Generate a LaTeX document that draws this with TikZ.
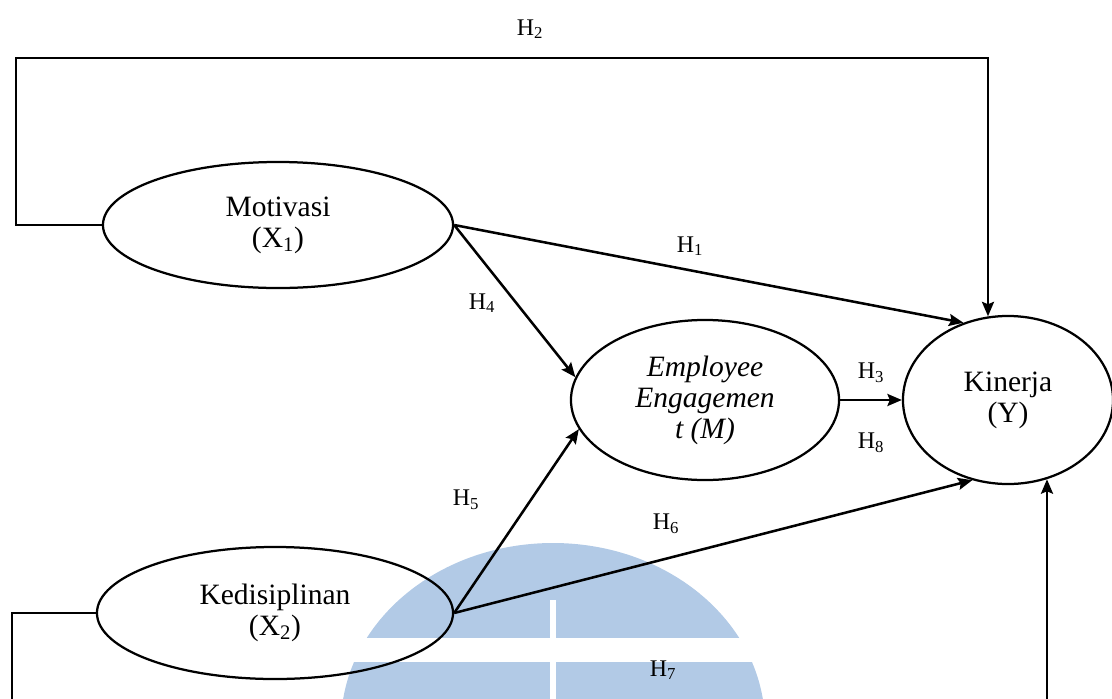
\documentclass[tikz,border=0pt]{standalone}
\usepackage{fontspec}
\setmainfont{Liberation Serif}
\usetikzlibrary{arrows.meta,shapes.geometric}

\definecolor{wmblue}{RGB}{178,202,230}

\begin{document}
\begin{tikzpicture}[x=0.025cm,y=-0.025cm,
    >={Stealth[length=3.6mm,width=3mm,inset=0.6mm]},
    var/.style={ellipse,draw,line width=1.6pt,inner sep=0pt,align=center,
      font=\fontsize{21}{22}\selectfont},
    hyp/.style={font=\fontsize{17}{20}\selectfont},
    arr/.style={->,line width=1.8pt}]
  \useasboundingbox (0,0) rectangle (1112,698);
  % watermark
  \begin{scope}
    \clip (0,0) rectangle (1112,698);
    \fill[wmblue] (553,725) ellipse (212 and 182);
    \fill[white] (550,600) rectangle (556,760);
    \fill[white] (300,638) rectangle (800,662);
  \end{scope}
  \node[var,minimum width=8.75cm,minimum height=3.15cm] (mot) at (278,225) {Motivasi\\(X\textsubscript{1})};
  \node[var,minimum width=6.7cm,minimum height=4cm] (ee) at (705,400) {\itshape Employee\\\itshape Engagemen\\\itshape t (M)};
  \node[var,minimum width=5.25cm,minimum height=4.2cm] (kin) at (1008,400) {Kinerja\\(Y)};
  \node[var,minimum width=8.9cm,minimum height=3.3cm] (kds) at (275,613) {Kedisiplinan\\(X\textsubscript{2})};
  \coordinate (h2l) at (16,58);
  \coordinate (h2r) at (988,58);
  \coordinate (h7l) at (12,712);
  \coordinate (h7r) at (1047,712);
  % paths
  \draw[arr] (mot.west) -| (h2l) -- (h2r) -- (h2r |- kin.103);
  \draw[arr] (mot.east) -- (kin.120);
  \draw[arr] (mot.east) -- (ee.170);
  \draw[arr] (ee.east) -- (kin.west);
  \draw[arr] (kds.east) -- (ee.193);
  \draw[arr] (kds.east) -- (kin.-114);
  \draw[arr] (kds.west) -| (h7l) -- (h7r) -- (h7r |- kin.-64);
  % labels
  \node[hyp] (l2) at (530,29) {H\textsubscript{2}};
  \node[hyp] (l1) at (690,246) {H\textsubscript{1}};
  \node[hyp] (l4) at (482,303) {H\textsubscript{4}};
  \node[hyp] (l3) at (871,373) {H\textsubscript{3}};
  \node[hyp] (l8) at (871,443) {H\textsubscript{8}};
  \node[hyp] (l5) at (466,500) {H\textsubscript{5}};
  \node[hyp] (l6) at (666,524) {H\textsubscript{6}};
  \node[hyp] (l7) at (663,670) {H\textsubscript{7}};
\end{tikzpicture}
\end{document}
